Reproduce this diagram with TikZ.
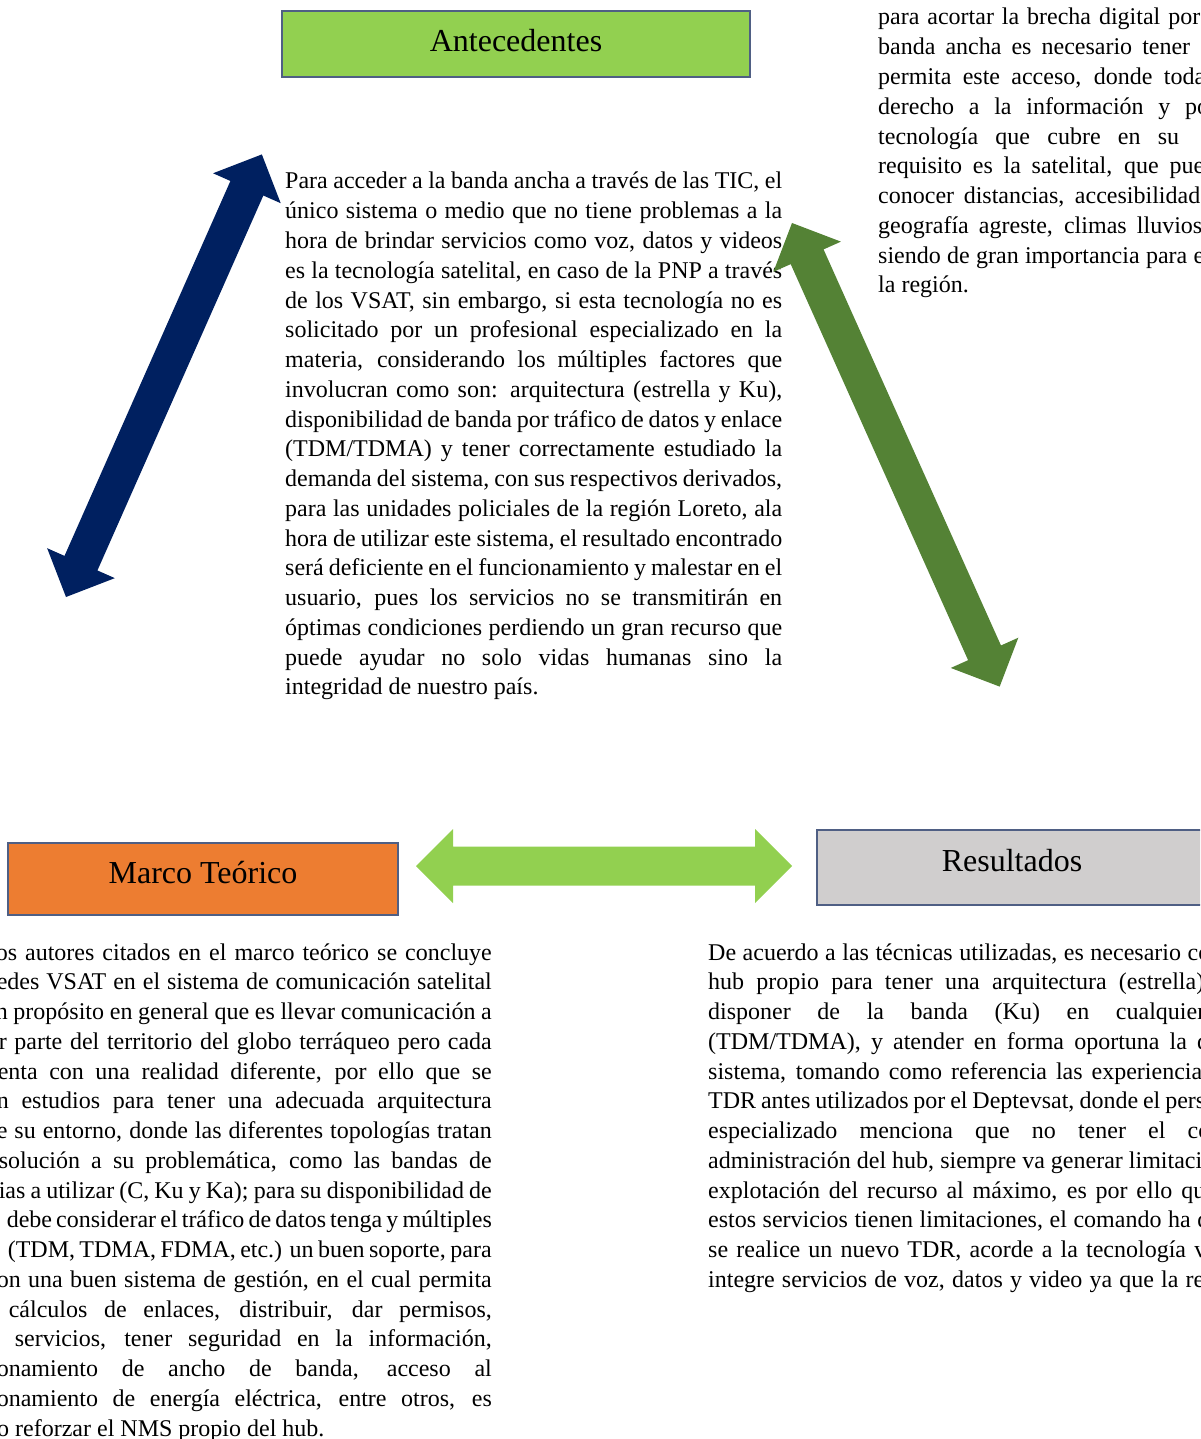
\documentclass[tikz,border=0pt]{standalone}
\usepackage{fontspec}
\setmainfont{Liberation Serif}
\definecolor{antgreen}{HTML}{92D050}
\definecolor{marcoorange}{HTML}{ED7D31}
\definecolor{resgrey}{HTML}{D0CECE}
\definecolor{boxedge}{HTML}{4F5F84}
\definecolor{navyarrow}{HTML}{002060}
\definecolor{leafarrow}{HTML}{548235}

\begin{document}
\begin{tikzpicture}[x=1pt, y=-1pt]
\tikzstyle{headbox}=[draw=boxedge, line width=1.5pt, inner sep=0pt, text height=22pt, font=\fontsize{32pt}{38pt}\selectfont]
\tikzstyle{textline}=[inner sep=0pt, font=\fontsize{24pt}{29.76pt}\selectfont]

\useasboundingbox (0,0) rectangle (1200,1439);
\clip (0,0) rectangle (1200,1439);
\fill[white] (0,0) rectangle (1200,1439);

% the three boxes
\node[headbox, fill=antgreen, minimum width=468pt, minimum height=66pt, text depth=6.5pt] (antecedentes) at (516,44) {Antecedentes};
\node[headbox, fill=marcoorange, minimum width=390pt, minimum height=72pt, text depth=13.5pt] (marco) at (203,879) {Marco Teórico};
\node[headbox, fill=resgrey, minimum width=390pt, minimum height=75pt, text depth=15pt] (resultados) at (1012,867.5) {Resultados};

% text under the antecedentes box
\foreach \txt [count=\i from 0] in {
{Para acceder a la banda ancha a través de las TIC, el},
{único sistema o medio que no tiene problemas a la},
{hora de brindar servicios como voz, datos y videos},
{es la tecnología satelital, en caso de la PNP a través},
{de los VSAT, sin embargo, si esta tecnología no es},
{solicitado por un profesional especializado en la},
{materia, considerando los múltiples factores que},
{involucran como son: arquitectura (estrella y Ku),},
{disponibilidad de banda por tráfico de datos y enlace},
{(TDM/TDMA) y tener correctamente estudiado la},
{demanda del sistema, con sus respectivos derivados,},
{para las unidades policiales de la región Loreto, ala},
{hora de utilizar este sistema, el resultado encontrado},
{será deficiente en el funcionamiento y malestar en el},
{usuario, pues los servicios no se transmitirán en},
{óptimas condiciones perdiendo un gran recurso que},
{puede ayudar no solo vidas humanas sino la}} {
\node[textline, anchor=base west] (antline-\i) at (285,{189+\i*29.76}) {\makebox[497pt][s]{\txt}};
}
\node[textline, anchor=base west] (antline-17) at (285,694.9) {integridad de nuestro país.};

% text at the top right
\foreach \bw/\txt [count=\i from 0] in {
322/{para acortar la brecha digital por},
312/{banda ancha es necesario tener},
327/{permita este acceso, donde toda},
331/{derecho a la información y po},
301/{tecnología que cubre en su},
326/{requisito es la satelital, que pue},
322/{conocer distancias, accesibilidad},
324/{geografía agreste, climas lluvios},
326/{siendo de gran importancia para e}} {
\node[textline, anchor=base west] (topline-\i) at (878,{25+\i*29.76}) {\makebox[\bw pt][s]{\txt}};
}
\node[textline, anchor=base west] (topline-9) at (878,292.8) {la región.};

% text under marco teorico
\foreach \bw/\txt [count=\i from 0] in {
496/{os autores citados en el marco teórico se concluye},
495/{edes VSAT en el sistema de comunicación satelital},
496/{n propósito en general que es llevar comunicación a},
493/{r parte del territorio del globo terráqueo pero cada},
494/{enta con una realidad diferente, por ello que se},
495/{n estudios para tener una adecuada arquitectura},
495/{e su entorno, donde las diferentes topologías tratan},
493/{solución a su problemática, como las bandas de},
493/{ias a utilizar (C, Ku y Ka); para su disponibilidad de},
485/{debe considerar el tráfico de datos tenga y múltiples},
484/{(TDM, TDMA, FDMA, etc.) un buen soporte, para},
495/{on una buen sistema de gestión, en el cual permita},
483/{cálculos de enlaces, distribuir, dar permisos,},
477/{servicios, tener seguridad en la información,},
495/{onamiento de ancho de banda, acceso al},
495/{onamiento de energía eléctrica, entre otros, es}} {
\node[textline, anchor=base east] (marcoline-\i) at (492,{960+\i*29.76}) {\makebox[\bw pt][s]{\txt}};
}
\node[textline, anchor=base west] (marcoline-16) at (-3,1436.2) {o reforzar el NMS propio del hub.};

% text under resultados
\foreach \bw/\txt [count=\i from 0] in {
502/{De acuerdo a las técnicas utilizadas, es necesario co},
496/{hub propio para tener una arquitectura (estrella)},
497/{disponer de la banda (Ku) en cualquier},
501/{(TDM/TDMA), y atender en forma oportuna la d},
494/{sistema, tomando como referencia las experiencia},
497/{TDR antes utilizados por el Deptevsat, donde el pers},
502/{especializado menciona que no tener el co},
494/{administración del hub, siempre va generar limitaci},
497/{explotación del recurso al máximo, es por ello qu},
501/{estos servicios tienen limitaciones, el comando ha d},
498/{se realice un nuevo TDR, acorde a la tecnología v},
496/{integre servicios de voz, datos y video ya que la re}} {
\node[textline, anchor=base west] (resline-\i) at (708,{960+\i*29.76}) {\makebox[\bw pt][s]{\txt}};
}

% block arrows: start tip, angle, length, shaft half width, colour
\foreach \ax/\ay/\ang/\len/\sw/\col in {66/597/66.13/484/18/navyarrow, 792/223/-65.87/508/18/leafarrow, 416/866/0/376/19.5/antgreen} {
\begin{scope}[shift={(\ax,\ay)}, rotate=\ang]
\fill[\col] (0,0) -- (37,37) -- (37,\sw) -- (\len-37,\sw) -- (\len-37,37) -- (\len,0) -- (\len-37,-37) -- (\len-37,-\sw) -- (37,-\sw) -- (37,-37) -- cycle;
\end{scope}
}

\end{tikzpicture}
\end{document}
